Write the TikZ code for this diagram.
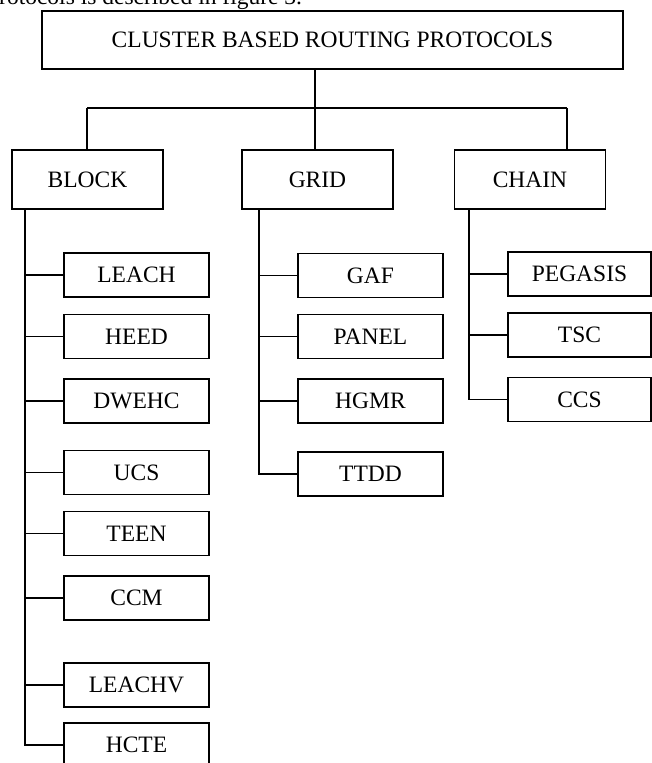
\documentclass[tikz,border=0pt]{standalone}
\usepackage{fontspec}
\setmainfont{Liberation Serif}
\begin{document}
\begin{tikzpicture}[x=1pt,y=-1pt,
  every node/.style={font=\fontsize{23.5}{28}\selectfont},
  box/.style={draw,line width=1.4pt,rectangle,inner sep=0pt},
  topbox/.style={box,minimum width=581pt,minimum height=58pt},
  catbox/.style={box,minimum width=151pt,minimum height=59pt},
  leafbox/.style={box,minimum width=145pt,minimum height=44pt},
  chainleaf/.style={box,minimum width=143pt,minimum height=44pt},
  conn/.style={line width=1.4pt}]
\useasboundingbox (0,0) rectangle (652,763);
\node[anchor=base west,inner sep=0pt] (caption) at (-1,4.5) {rotocols is described in figure 3.};
\node[topbox] (root) at (332.5,40) {CLUSTER BASED ROUTING PROTOCOLS};
\node[catbox] (block) at (87.5,179.5) {BLOCK};
\node[catbox] (grid) at (317.5,179.5) {GRID};
\node[catbox] (chain) at (530,179.5) {CHAIN};
% block children
\node[leafbox] (leach) at (136.5,275) {LEACH};
\node[leafbox] (heed) at (136.5,336.5) {HEED};
\node[leafbox] (dwehc) at (136.5,401) {DWEHC};
\node[leafbox] (ucs) at (136.5,472.5) {UCS};
\node[leafbox] (teen) at (136.5,533.5) {TEEN};
\node[leafbox] (ccm) at (136.5,598) {CCM};
\node[leafbox] (leachv) at (136.5,685) {LEACHV};
\node[leafbox] (hcte) at (136.5,745) {HCTE};
% grid children
\node[leafbox] (gaf) at (370.5,275.5) {GAF};
\node[leafbox] (panel) at (370.5,336.5) {PANEL};
\node[leafbox] (hgmr) at (370.5,401) {HGMR};
\node[leafbox] (ttdd) at (370.5,474) {TTDD};
% chain children
\node[chainleaf] (pegasis) at (579.5,274) {PEGASIS};
\node[chainleaf] (tsc) at (579.5,335) {TSC};
\node[chainleaf] (ccs) at (579.5,399.5) {CCS};
% tree trunk
\coordinate (rootx) at (315,108);
\coordinate (bx) at (87,108);
\coordinate (gx) at (315,108);
\coordinate (cx) at (567,108);
\draw[conn] (root.south -| rootx) -- (rootx);
\draw[conn] (bx) -- (cx);
\draw[conn] (bx) -- (block.north -| bx);
\draw[conn] (gx) -- (grid.north -| gx);
\draw[conn] (cx) -- (chain.north -| cx);
% spines
\coordinate (bsp) at (25,0);
\coordinate (gsp) at (259,0);
\coordinate (csp) at (469,0);
\draw[conn] (block.south -| bsp) |- (hcte.west);
\foreach \n in {leach,heed,dwehc,ucs,teen,ccm,leachv}
  \draw[conn] (\n.west -| bsp) -- (\n.west);
\draw[conn] (grid.south -| gsp) |- (ttdd.west);
\foreach \n in {gaf,panel,hgmr}
  \draw[conn] (\n.west -| gsp) -- (\n.west);
\draw[conn] (chain.south -| csp) |- (ccs.west);
\foreach \n in {pegasis,tsc}
  \draw[conn] (\n.west -| csp) -- (\n.west);
\end{tikzpicture}
\end{document}
